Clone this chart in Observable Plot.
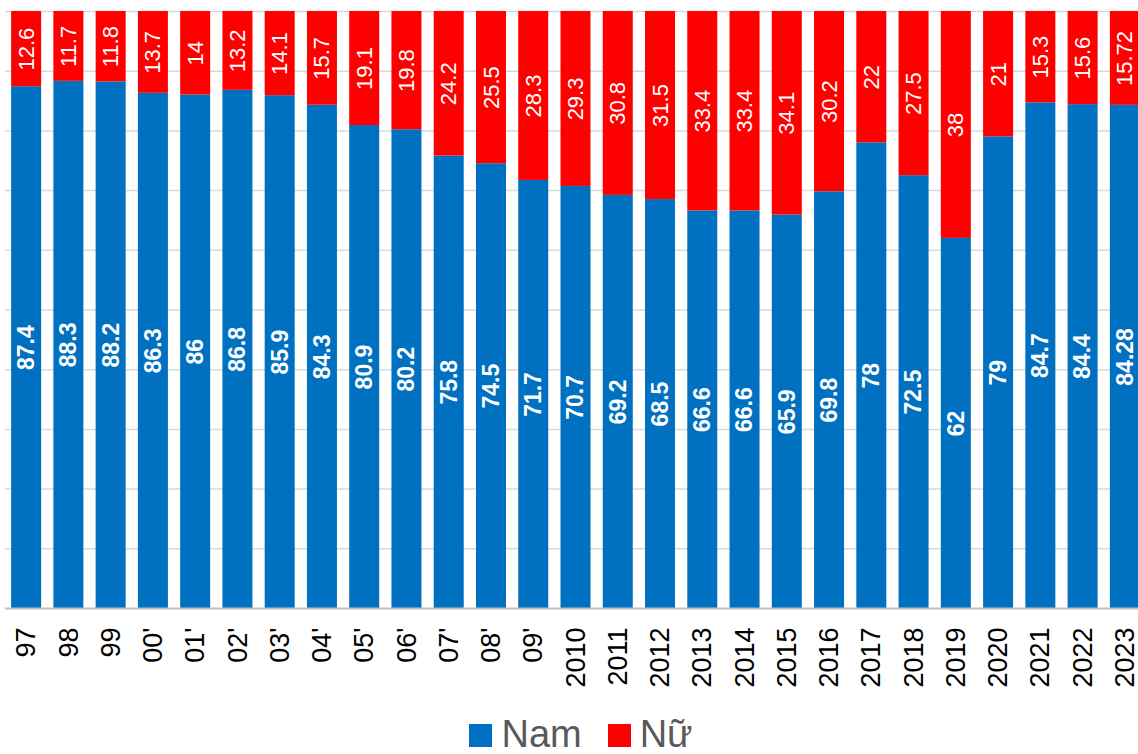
<!DOCTYPE html>
<html><head><meta charset="utf-8">
<script src="https://cdn.jsdelivr.net/npm/d3@7"></script>
<script src="https://cdn.jsdelivr.net/npm/@observablehq/plot@0.6"></script>
<style>
html,body{margin:0;padding:0;overflow:hidden;background:#fff;font-family:"Liberation Sans",Arial,sans-serif;}
#chart{width:1138px;overflow:hidden;}
#chart svg{display:block;max-width:none !important;}
#legend{display:flex;justify-content:center;align-items:center;margin-top:15px;padding-left:24px;font-size:38px;line-height:38px;color:#595959;}
#legend .item{display:flex;align-items:center;margin:0 13px;}
#legend .sw{width:23px;height:23px;margin-right:9px;position:relative;top:1px;}
</style></head><body>
<div id="chart"></div>
<div id="legend"></div>
<script>
const years = ["97","98","99","00'","01'","02'","03'","04'","05'","06'","07'","08'","09'","2010","2011","2012","2013","2014","2015","2016","2017","2018","2019","2020","2021","2022","2023"];
const nam = [87.4,88.3,88.2,86.3,86,86.8,85.9,84.3,80.9,80.2,75.8,74.5,71.7,70.7,69.2,68.5,66.6,66.6,65.9,69.8,78,72.5,62,79,84.7,84.4,84.28];
const nu = [12.6,11.7,11.8,13.7,14,13.2,14.1,15.7,19.1,19.8,24.2,25.5,28.3,29.3,30.8,31.5,33.4,33.4,34.1,30.2,22,27.5,38,21,15.3,15.6,15.72];
const seriesNames = ["Nam","Nữ"];
const seriesColors = ["#0070C0","#FF0000"];
const gridTicks = [10,20,30,40,50,60,70,80,90,100];

const rows = years.flatMap((y,i)=>[
  {year:y, sex:"Nam", value:nam[i]},
  {year:y, sex:"Nữ", value:nu[i]}
]);

const plot = Plot.plot({
  width:1146, height:700,
  marginTop:11, marginBottom:92, marginLeft:5, marginRight:0,
  style:{fontFamily:"'Liberation Sans', Arial, sans-serif", background:"#fff"},
  x:{domain:years, paddingInner:0.29, paddingOuter:0.145, round:false, axis:null},
  y:{domain:[0,100], axis:null},
  color:{domain:seriesNames, range:seriesColors},
  marks:[
    Plot.ruleY(gridTicks, {stroke:"#d9d9d9", strokeWidth:1.5}),
    Plot.barY(rows, {x:"year", y:"value", fill:"sex", order:seriesNames}),
    Plot.ruleY([0], {stroke:"#bfbfbf", strokeWidth:2}),
    Plot.text(rows, Plot.stackY({x:"year", y:"value", z:"sex", order:seriesNames,
      text:d=>d.sex==="Nam"?String(d.value):null, rotate:-90, fill:"white",
      fontSize:23, fontWeight:"bold"})),
    Plot.text(rows, Plot.stackY({x:"year", y:"value", z:"sex", order:seriesNames,
      text:d=>d.sex==="Nữ"?String(d.value):null, rotate:-90, fill:"white",
      fontSize:22})),
    Plot.axisX({tickSize:0, tickPadding:19, tickRotate:-90, fontSize:27, fill:"black", label:null})
  ]
});
document.getElementById("chart").append(plot);

const legend = document.getElementById("legend");
seriesNames.forEach((n,i)=>{
  const it = document.createElement("div"); it.className="item";
  const sw = document.createElement("span"); sw.className="sw"; sw.style.background=seriesColors[i];
  const tx = document.createElement("span"); tx.textContent=n;
  it.append(sw, tx); legend.append(it);
});
</script>
</body></html>
